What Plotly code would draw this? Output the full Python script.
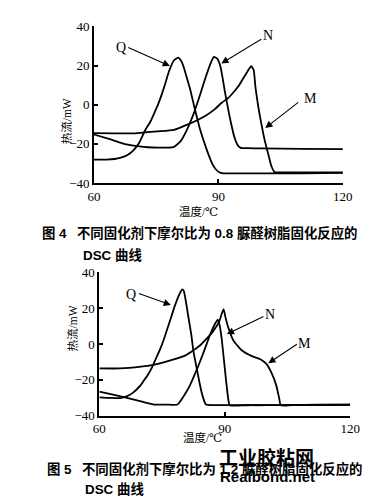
import plotly.graph_objects as go

W, H = 378, 499

# ---------------- Figure 4 (molar ratio 0.8) ----------------
t4_Q = [60, 63, 65, 66.5, 68, 69.5, 70.9, 72.4, 73.6, 74.6, 75.5, 76.3, 77, 77.6, 78.2, 79.3, 80.3,
        81, 81.6, 82.4, 83.2, 84.3, 85.5, 86.3, 87, 87.8, 88.5, 89.3, 90.1, 91.2, 95, 100, 110, 120]
hf4_Q = [-28, -28, -27.7, -27, -25.8, -23.3, -19.4, -12.8, -8.7, -4, 0.4, 5, 9.5, 13.8, 17.7, 22.7, 24,
         22.5, 19.4, 13.6, 7.8, -2.1, -12, -17.5, -21.9, -26.5, -30.1, -32.8, -34.3, -35, -35, -35, -35, -34.8]

t4_N = [60, 64, 67.8, 70.5, 73, 75.5, 77.8, 79.3, 80.9, 82.4, 83.9, 85.5, 87, 88, 88.9, 89.7, 90.5,
        91.6, 92.8, 93.9, 94.7, 95.4, 97, 100, 110, 120]
hf4_N = [-15.2, -17.7, -20.2, -21.1, -21.7, -21.9, -21.9, -21.5, -18.6, -12.8, -5.3, 4.6, 14.5, 20.5, 24.4, 23.5, 19.4,
         6.2, -7, -16.9, -20.8, -22, -22.2, -22.3, -22.5, -22.7]

t4_M = [60, 65, 70, 75, 79.3, 83.2, 85, 87, 89, 90.8, 92.4, 93.9, 95, 96, 97, 97.9, 98.5, 98.9, 99.7,
        100.4, 101.2, 102, 102.7, 103.5, 105, 110, 115, 120]
hf4_M = [-14.5, -14.6, -14.6, -13.6, -12.8, -9.5, -7.8, -5.5, -2.5, 1, 3.5, 7, 10, 13.5, 17, 19.7, 17.7, 9.5, -2.1,
         -10.3, -18.6, -25.1, -30.9, -34.3, -34.5, -34.5, -34.5, -34.6]

# ---------------- Figure 5 (molar ratio 1.2) ----------------
t5_Q = [60, 62.5, 65, 66.5, 68, 68.8, 69.8, 70.7, 71.7, 72.6, 73.5, 74.5, 75.5, 76.4, 77.2, 77.9, 78.5,
        79.1, 79.8, 80.2, 80.6, 81.3, 82, 82.5, 83.2, 84, 84.7, 85.5, 88, 95, 105, 120]
hf5_Q = [-29.7, -30, -30.1, -29.2, -27.2, -25.6, -23.2, -20.2, -16.8, -13, -8.3, -3.2, 3, 9.4, 15, 20.2, 24,
         27.4, 30.4, 29.5, 25, 15, 5, -4, -12.5, -22, -29, -33.7, -34, -34, -34, -33.9]

t5_N = [60, 63, 66.1, 69.5, 73, 76, 78.7, 80.2, 81.7, 83, 84, 85.2, 86.3, 87.4, 88.3, 88.8, 89.3,
        90.1, 90.8, 91.2, 95, 105, 120]
hf5_N = [-26.5, -28, -29.7, -31.7, -33.7, -33.7, -33.7, -29, -22.9, -16, -10.3, -3, 4, 10, 13.5, 10, 2.2,
         -15.7, -30.1, -34.1, -34.1, -34, -33.8]

t5_M = [60, 65, 70, 72.6, 76, 80.2, 82, 84, 85.5, 87.1, 88.6, 89.7, 90.2, 90.8, 92, 93.9, 96.5, 98.5,
        100, 101.1, 102.3, 103, 103.4, 106, 112, 120]
hf5_M = [-13.6, -13.6, -12.6, -11.8, -9.8, -6.8, -4.3, -1, 2.5, 6.7, 12.1, 19.3, 14.5, 9.4, 2.2, -3.2, -6.8, -8.5,
         -11.2, -15.7, -22.9, -30.1, -34.1, -34, -33.8, -33.8]

x_ticks = [60, 90, 120]
y_ticks = [-40, -20, 0, 20, 40]
x_title = "温度/℃"
y_title = "热流/mW"
cap4 = "图 4\u2002 不同固化剂下摩尔比为 0.8 脲醛树脂固化反应的"
cap5 = "图 5\u2002 不同固化剂下摩尔比为 1.2 脲醛树脂固化反应的"
cap_line2 = "DSC 曲线"

fig = go.Figure()
line_style = dict(color="black", width=1.8, shape="spline", smoothing=0.5)
for t, hf in [(t4_Q, hf4_Q), (t4_N, hf4_N), (t4_M, hf4_M)]:
    fig.add_trace(go.Scatter(x=t, y=hf, mode="lines", line=line_style, xaxis="x", yaxis="y",
                             showlegend=False, hoverinfo="skip"))
for t, hf in [(t5_Q, hf5_Q), (t5_N, hf5_N), (t5_M, hf5_M)]:
    fig.add_trace(go.Scatter(x=t, y=hf, mode="lines", line=line_style, xaxis="x2", yaxis="y2",
                             showlegend=False, hoverinfo="skip"))

def px(x):
    return x / W

def py(y):
    return 1 - y / H

SERIF = "Liberation Serif, DejaVu Serif, Times New Roman, serif"
ax_common = dict(showline=True, linecolor="black", linewidth=1.8, ticks="inside", ticklen=4,
                 tickwidth=1.5, tickcolor="black", showgrid=False, zeroline=False,
                 tickfont=dict(family=SERIF, size=13, color="black"))

fig.update_layout(
    width=W, height=H, margin=dict(l=0, r=0, t=0, b=0),
    paper_bgcolor="white", plot_bgcolor="white",
    xaxis=dict(domain=[px(82.7), px(343.3)], range=[60, 120], tickvals=x_ticks, anchor="y", **ax_common),
    yaxis=dict(domain=[py(173.3), py(11.7)], range=[-40, 40], tickvals=y_ticks, anchor="x", **ax_common),
    xaxis2=dict(domain=[px(88.3), px(351)], range=[60, 120], tickvals=x_ticks, anchor="y2", **ax_common),
    yaxis2=dict(domain=[py(413.3), py(265)], range=[-40, 40], tickvals=y_ticks, anchor="x2", **ax_common),
)

ann = []
serif_cjk = "Liberation Serif, DejaVu Serif, Noto Sans CJK SC"
title_font = dict(family=serif_cjk, size=11.5, color="black")
# axis titles
ann.append(dict(text=y_title, x=px(45), y=py(83.3), xref="paper", yref="paper", showarrow=False,
                textangle=-90, font=title_font))
ann.append(dict(text=x_title, x=px(192), y=py(203), xref="paper", yref="paper", showarrow=False,
                font=title_font))
ann.append(dict(text=y_title, x=px(51.7), y=py(323.3), xref="paper", yref="paper", showarrow=False,
                textangle=-90, font=title_font))
ann.append(dict(text=x_title, x=px(196.5), y=py(444), xref="paper", yref="paper", showarrow=False,
                font=title_font))

# captions
cap_font = dict(family="Liberation Sans, Noto Sans CJK SC", size=13.4, color="black")
for text, x, y in [(cap4, 26.7, 225), (cap_line2, 69, 247), (cap5, 31.7, 468), (cap_line2, 71.7, 489)]:
    ann.append(dict(text="<b>%s</b>" % text, x=px(x), y=py(y), xref="paper", yref="paper",
                    showarrow=False, xanchor="left", yanchor="middle", font=cap_font))

# curve labels + arrows
lab_font = dict(family=SERIF, size=14, color="black")
labels = [
    ("x", "y", "Q", (66.6, 29.3), (67.9, 29.5), (78.3, 19.8)),
    ("x", "y", "N", (102.0, 35.1), (100.7, 33.9), (90.7, 21.1)),
    ("x", "y", "M", (112.3, 3.3), (109.6, 1.8), (101.3, -11.9)),
    ("x2", "y2", "Q", (67.6, 27.4), (69.1, 28.3), (77.1, 21.7)),
    ("x2", "y2", "N", (100.7, 16.5), (99.6, 15.6), (90.5, 5.5)),
    ("x2", "y2", "M", (109.1, 0.4), (107.6, 0.4), (100.4, -10.7)),
]
for xr, yr, t, lp, tail, head in labels:
    ann.append(dict(text=t, x=lp[0], y=lp[1], xref=xr, yref=yr, showarrow=False, font=lab_font))
    ann.append(dict(text="", x=head[0], y=head[1], ax=tail[0], ay=tail[1], xref=xr, yref=yr,
                    axref=xr, ayref=yr, showarrow=True, arrowhead=2, arrowsize=1.3, arrowwidth=1.1,
                    arrowcolor="black", standoff=0, startstandoff=0))

# watermark (overlaps the end of the second caption, as in the source image)
ann.append(dict(text="<b>工业胶粘网</b>", x=px(315), y=py(471.5), xref="paper", yref="paper", showarrow=False,
                font=dict(family="Noto Sans CJK SC", size=19, color="black")))
ann.append(dict(text="<b>Realbond.net</b>", x=px(316), y=py(486.5), xref="paper", yref="paper", showarrow=False,
                font=dict(family="Liberation Sans", size=15, color="black")))

fig.update_layout(annotations=ann)
fig.write_html("out.html")
